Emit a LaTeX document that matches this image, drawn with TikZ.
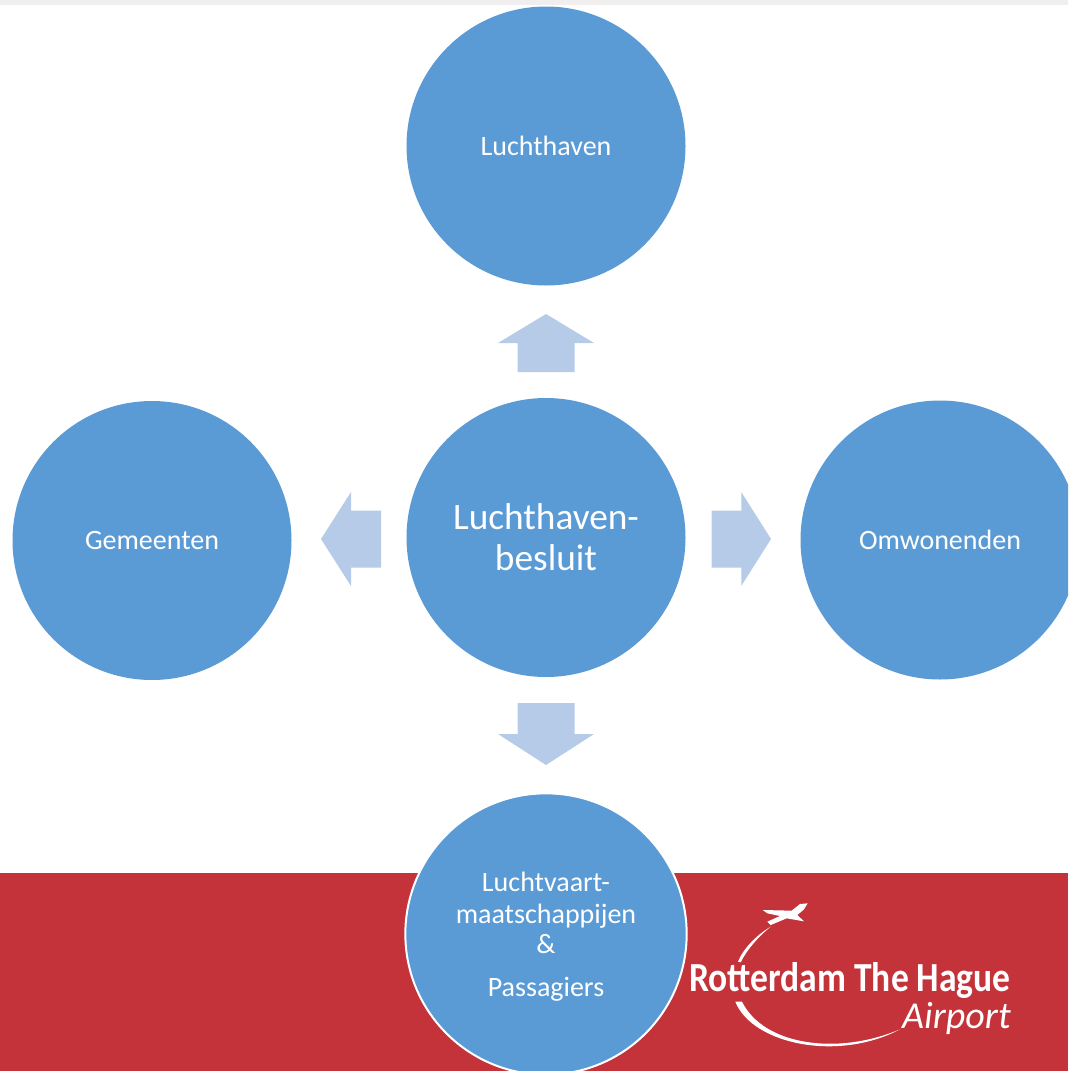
\documentclass[tikz,border=0pt]{standalone}
\usepackage{fontspec}
\setmainfont{Carlito}
\usepackage{xcolor}
\usepackage{tikz}
\definecolor{bolblue}{HTML}{5B9BD5}
\definecolor{pijlblue}{HTML}{B5CBE8}
\definecolor{bandred}{HTML}{C4323A}
\definecolor{topgrey}{HTML}{F0EEEE}
\tikzset{
 bol/.style={circle, fill=bolblue, text=white, inner sep=0, minimum size=209.25pt, align=center, font=\fontsize{21}{24}\selectfont},
 pijl/.style={fill=pijlblue},
 logotext/.style={text=white, inner sep=0, anchor=base east}
}

\begin{document}
\begin{tikzpicture} [x=.75pt,y=-.75pt]
\useasboundingbox (0,0) rectangle (1068,1071);
\clip (0,0) rectangle (1068,1071);
\fill[topgrey] (0,0) rectangle (1068,5);
\fill[bandred] (0,873) rectangle (1068,1071);
\node[bol] (luchthaven) at (546,146) {Luchthaven};
\node[bol, font=\fontsize{28}{31}\selectfont] (besluit) at (546,537.5) {Luchthaven-\\besluit};
\node[bol] (gemeenten) at (152,540.5) {Gemeenten};
\node[bol] (omwonenden) at (940,540) {Omwonenden};
\node[bol, draw=white, line width=1.5pt, minimum size=211pt] (passagiers) at (546,934) {\rule{0pt}{18pt}Luchtvaart-\\maatschappijen\\[-1.5pt]\&\\[8.25pt]Passagiers};
\foreach \ax/\ay/\ang/\lng/\brd in {546/372/0/58/48, 546/703/180/62/48, 381/539/90/60/47, 711.5/539/-90/59.5/47} {
 \fill[pijl, shift={(\ax,\ay)}, rotate=\ang] (-28.5,0) -- (28.5,0) -- (28.5,-\lng/2) -- (\brd,-\lng/2) -- (0,-\lng) -- (-\brd,-\lng/2) -- (-28.5,-\lng/2) -- cycle;
}
% logo
\node[logotext, font=\bfseries\fontsize{31}{33}\selectfont] (rth) at (1011,991) {\scalebox{.86}[1]{Rotterdam The Hague}};
\node[logotext, font=\itshape\fontsize{28.5}{30}\selectfont] (airport) at (1011,1028) {Airport};
\begin{scope}[shift={(680,880)}, scale=1/3]
\fill[white] (383,70) -- (360,72) -- (335,92) -- (248,90) -- (262,100) -- (300,108) -- (262,125) -- (272,135) -- (320,115) -- (372,124) -- (352,105) -- (372,88) -- cycle;
\fill[white] (272,140) .. controls (230,165) and (190,205) .. (174,245) -- (182,247) .. controls (200,210) and (235,170) .. cycle;
\fill[white] (166,365) .. controls (215,490) and (470,548) .. (660,448) .. controls (470,528) and (250,495) .. (186,365) -- cycle;
\end{scope}
\end{tikzpicture}
\end{document}
